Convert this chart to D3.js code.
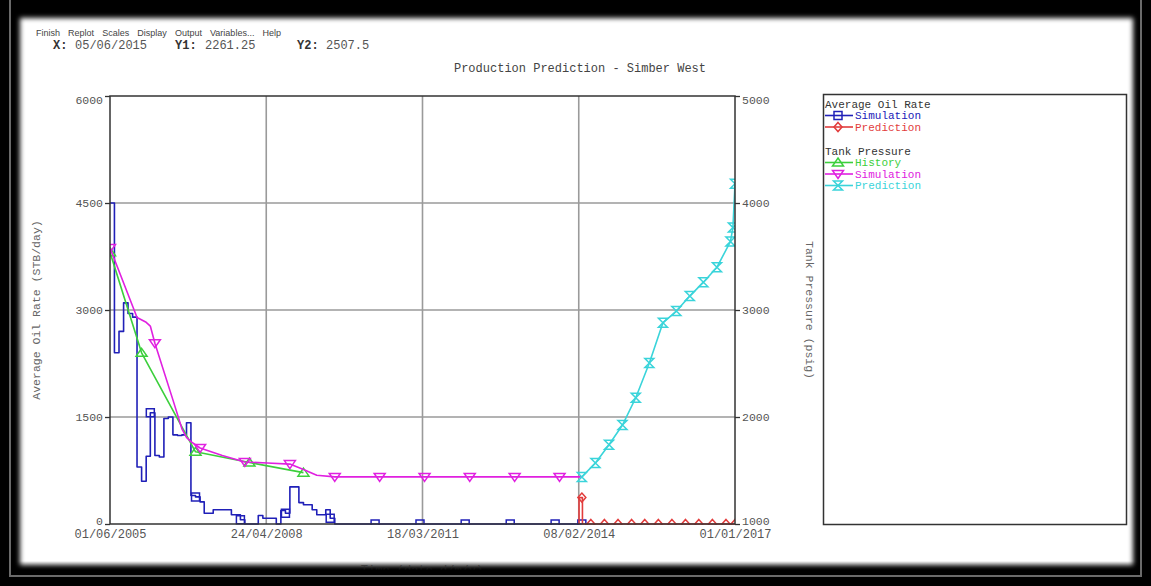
<!DOCTYPE html>
<html>
<head>
<meta charset="utf-8">
<script src="https://cdn.jsdelivr.net/npm/d3@7"></script>
<style>
  html, body { margin: 0; padding: 0; background: #000; }
  svg { display: block; }
</style>
</head>
<body>
<svg id="chart" width="1151" height="586"></svg>
<script>
// ---------- data ----------
const menuItems = ["Finish", "Replot", "Scales", "Display", "Output", "Variables...", "Help"];
const cursorLabels = ["X:", "Y1:", "Y2:"];
const cursorValues = ["05/06/2015", "2261.25", "2507.5"];
const chartTitle = "Production Prediction - Simber West";

const xTickLabels = ["01/06/2005", "24/04/2008", "18/03/2011", "08/02/2014", "01/01/2017"];
const rateTicks = [0, 1500, 3000, 4500, 6000];
const pressureTicks = [1000, 2000, 3000, 4000, 5000];

// Average oil rate, simulation: monthly values from June 2005 (STB/day)
const oilSimStart = "01/06/2005";
const oilSimRate = [
  4500, 2400, 2700, 3100, 2950, 2900, 800, 600, 950, 1560,
  960, 940, 1480, 1500, 1250, 1240, 1250, 1420, 400, 380,
  310, 150, 150, 200, 200, 200, 200, 130, 130, 60,
  0, 0, 0, 120, 80, 80, 80, 0, 190, 150,
  520, 520, 300, 270, 270, 200, 130, 130, 200, 80,
  0, 0, 0, 0, 0, 0, 0, 0, 0, 0,
  0, 0, 0, 0, 0, 0, 0, 0, 0, 0,
  0, 0, 0, 0, 0, 0, 0, 0, 0, 0,
  0, 0, 0, 0, 0, 0, 0, 0, 0, 0,
  0, 0, 0, 0, 0, 0, 0, 0, 0, 0,
  0, 0, 0, 0, 0, 0
];

// Average oil rate, prediction (STB/day)
const oilPredDates = ["09/02/2014", "10/02/2014", "01/03/2014", "05/03/2014", "01/05/2014", "01/08/2014",
  "01/11/2014", "01/02/2015", "01/05/2015", "01/08/2015", "01/11/2015", "01/02/2016",
  "01/05/2016", "01/08/2016", "01/11/2016", "01/01/2017"];
const oilPredRate = [0, 370, 370, 0, 0, 0, 0, 0, 0, 0, 0, 0, 0, 0, 0, 0];
const oilPredMarked = [false, false, true, false, true, true, true, true, true, true, true, true, true, true, true, true];

// Tank pressure, history (psig)
const presHistDates = ["01/06/2005", "01/01/2006", "01/01/2007", "01/01/2008", "01/01/2009"];
const presHist = [3540, 2600, 1675, 1575, 1480];

// Tank pressure, simulation (psig)
const presSimDates = ["01/06/2005", "01/12/2005", "01/02/2006", "01/03/2006", "01/04/2006", "01/08/2006",
  "01/10/2006", "01/11/2006", "01/12/2006", "01/02/2007", "01/07/2007", "01/12/2007",
  "01/05/2008", "01/10/2008", "01/01/2009", "01/04/2009", "01/08/2009", "01/06/2010",
  "01/04/2011", "01/02/2012", "01/12/2012", "01/10/2013", "01/03/2014"];
const presSim = [3580, 2930, 2885, 2850, 2690, 2160, 1890, 1810, 1770, 1710, 1640, 1580,
  1570, 1560, 1510, 1455, 1440, 1440, 1440, 1440, 1440, 1440, 1440];
const presSimMarked = [true, false, false, false, true, false, false, false, false, true, false, true,
  false, true, false, false, true, true, true, true, true, true, false];

// Tank pressure, prediction (psig)
const presPredDates = ["01/03/2014", "01/06/2014", "01/09/2014", "01/12/2014", "01/03/2015", "01/06/2015",
  "01/09/2015", "01/12/2015", "01/03/2016", "01/06/2016", "01/09/2016", "01/12/2016",
  "18/12/2016", "01/01/2017"];
const presPred = [1440, 1570, 1740, 1925, 2180, 2505, 2880, 2990, 3130, 3260, 3400, 3640, 3770, 4180];

// ---------- setup ----------
const parse = d3.timeParse("%d/%m/%Y");
const svg = d3.select("#chart");
const W = 1151, H = 586;
const plot = { left: 110, right: 735, top: 96, bottom: 524 };
const mono = "'Liberation Mono', 'DejaVu Sans Mono', monospace";

const col = {
  blue: "#2020b8",
  red: "#e23c3c",
  green: "#3ccf3c",
  magenta: "#e020e0",
  cyan: "#3ad4da",
  grid: "#9a9a9a",
  frame: "#333"
};

const xTicks = xTickLabels.map(parse);
const x = d3.scaleTime().domain([xTicks[0], xTicks[xTicks.length - 1]]).range([plot.left, plot.right]);
const yL = d3.scaleLinear().domain([0, 6000]).range([plot.bottom, plot.top]);
const yR = d3.scaleLinear().domain([1000, 5000]).range([plot.bottom, plot.top]);

const defs = svg.append("defs");
defs.append("filter").attr("id", "soft").attr("x", "-5%").attr("y", "-5%").attr("width", "110%").attr("height", "110%")
  .append("feGaussianBlur").attr("stdDeviation", 2.6);
defs.append("clipPath").attr("id", "plotClip")
  .append("rect").attr("x", plot.left).attr("y", plot.top)
  .attr("width", plot.right - plot.left).attr("height", plot.bottom - plot.top + 1);
const fade = defs.append("linearGradient").attr("id", "bottomFade").attr("x1", 0).attr("x2", 0).attr("y1", 0).attr("y2", 1);
fade.append("stop").attr("offset", "0%").attr("stop-color", "#000").attr("stop-opacity", 0);
fade.append("stop").attr("offset", "38%").attr("stop-color", "#000").attr("stop-opacity", 1);
fade.append("stop").attr("offset", "100%").attr("stop-color", "#000").attr("stop-opacity", 1);

// window background and white client area with soft edges
svg.append("rect").attr("width", W).attr("height", H).attr("fill", "#000");
svg.append("rect").attr("x", 20).attr("y", 18).attr("width", 1113).attr("height", 549)
  .attr("fill", "#fff").attr("filter", "url(#soft)");

// ---------- header ----------
// menu bar: items spread evenly between x=36 and x=281
const menuG = svg.append("g");
const menuTexts = menuItems.map(m => menuG.append("text").attr("y", 36)
  .attr("font-family", "'Liberation Sans', Arial, sans-serif").attr("font-size", 9)
  .attr("fill", "#444").text(m));
const widths = menuTexts.map(t => t.node().getComputedTextLength());
const gap = (281 - 36 - d3.sum(widths)) / (menuItems.length - 1);
let mx = 36;
menuTexts.forEach((t, i) => { t.attr("x", mx); mx += widths[i] + gap; });

const cursorX = [53, 175, 297];
const valueX = [75, 205, 326];
cursorLabels.forEach((lab, i) => {
  svg.append("text").attr("x", cursorX[i]).attr("y", 49)
    .attr("font-family", mono).attr("font-size", 12).attr("font-weight", "bold").attr("fill", "#333").text(lab);
  svg.append("text").attr("x", valueX[i]).attr("y", 49)
    .attr("font-family", mono).attr("font-size", 12).attr("fill", "#555").text(cursorValues[i]);
});

svg.append("text").attr("x", 580).attr("y", 72).attr("text-anchor", "middle")
  .attr("font-family", mono).attr("font-size", 12).attr("fill", "#444").text(chartTitle);

// ---------- grid ----------
const grid = svg.append("g").attr("stroke", col.grid).attr("stroke-width", 1.6);
xTicks.slice(1, -1).forEach(d => {
  grid.append("line").attr("x1", x(d)).attr("x2", x(d)).attr("y1", plot.top).attr("y2", plot.bottom);
});
rateTicks.slice(1, -1).forEach(v => {
  grid.append("line").attr("x1", plot.left).attr("x2", plot.right).attr("y1", yL(v)).attr("y2", yL(v));
});

// ---------- axes ----------
function styleAxis(g) {
  g.select(".domain").remove();
  g.selectAll(".tick line").attr("stroke", col.frame).attr("stroke-width", 1.3);
  g.selectAll(".tick text").attr("font-family", mono).attr("font-size", 11.5).attr("fill", "#555");
}
const axL = svg.append("g").attr("transform", `translate(${plot.left},0)`)
  .call(d3.axisLeft(yL).tickValues(rateTicks).tickFormat(d3.format("d")).tickSize(5).tickPadding(2));
styleAxis(axL);
const axR = svg.append("g").attr("transform", `translate(${plot.right},0)`)
  .call(d3.axisRight(yR).tickValues(pressureTicks).tickFormat(d3.format("d")).tickSize(5).tickPadding(2));
styleAxis(axR);
// keep the end labels inside the plot height
[axL, axR].forEach(g => {
  const t = g.selectAll(".tick text");
  t.filter((d, i) => i === 0).attr("dy", "0.0em");
  t.filter((d, i, n) => i === n.length - 1).attr("dy", "0.65em");
});
const axB = svg.append("g").attr("transform", `translate(0,${plot.bottom})`)
  .call(d3.axisBottom(x).tickValues(xTicks).tickFormat(d3.timeFormat("%d/%m/%Y")).tickSize(0).tickPadding(5));
styleAxis(axB);
axB.selectAll(".tick text").attr("font-size", 12);

svg.append("text").attr("transform", "translate(40,310) rotate(-90)").attr("text-anchor", "middle")
  .attr("font-family", mono).attr("font-size", 11.5).attr("fill", "#666").text("Average Oil Rate (STB/day)");
svg.append("text").attr("transform", "translate(806,310) rotate(90)").attr("text-anchor", "middle")
  .attr("font-family", mono).attr("font-size", 11.5).attr("fill", "#666").text("Tank Pressure (psig)");
svg.append("text").attr("x", 422).attr("y", 574).attr("text-anchor", "middle")
  .attr("font-family", mono).attr("font-size", 12).attr("fill", "#777").text("Time (date d/m/y)");

// ---------- markers ----------
function markerPath(kind, r) {
  switch (kind) {
    case "square": return `M${-r},${-r}H${r}V${r}H${-r}Z`;
    case "diamond": return `M0,${-r - 0.5}L${r},0L0,${r + 0.5}L${-r},0Z`;
    case "up": return `M0,${-r}L${r + 1},${r - 1}H${-r - 1}Z`;
    case "down": return `M0,${r}L${r + 1},${-r + 1}H${-r - 1}Z`;
    case "hourglass": return `M${-r},${-r}H${r}L${-r},${r}H${r}Z`;
  }
}

// ---------- series ----------
const series = svg.append("g").attr("clip-path", "url(#plotClip)");

function drawSeries(points, yScale, color, kind, r, curve) {
  const line = d3.line().x(d => x(d.date)).y(d => yScale(d.value)).curve(curve || d3.curveLinear);
  series.append("path").datum(points).attr("d", line)
    .attr("fill", "none").attr("stroke", color).attr("stroke-width", 1.6).attr("stroke-linejoin", "round");
  series.append("g").selectAll("path").data(points.filter(d => d.marked)).join("path")
    .attr("transform", d => `translate(${x(d.date)},${yScale(d.value)})`)
    .attr("d", markerPath(kind, r))
    .attr("fill", "none").attr("stroke", color).attr("stroke-width", 1.5);
}

const simStart = parse(oilSimStart);
const oilSimPts = oilSimRate.map((v, i) => ({
  date: d3.timeMonth.offset(simStart, i),
  value: v,
  marked: i % 10 === 9 || i === oilSimRate.length - 1
}));
drawSeries(oilSimPts, yL, col.blue, "square", 4, d3.curveStepAfter);

const oilPredPts = oilPredDates.map((d, i) => ({ date: parse(d), value: oilPredRate[i], marked: oilPredMarked[i] }));
drawSeries(oilPredPts, yL, col.red, "diamond", 4, d3.curveStepAfter);

const histPts = presHistDates.map((d, i) => ({ date: parse(d), value: presHist[i], marked: true }));
drawSeries(histPts, yR, col.green, "up", 4.5);

const simPts = presSimDates.map((d, i) => ({ date: parse(d), value: presSim[i], marked: presSimMarked[i] }));
drawSeries(simPts, yR, col.magenta, "down", 4.5);

const predPts = presPredDates.map((d, i) => ({ date: parse(d), value: presPred[i], marked: true }));
drawSeries(predPts, yR, col.cyan, "hourglass", 4.5);

// plot frame
svg.append("rect").attr("x", plot.left).attr("y", plot.top)
  .attr("width", plot.right - plot.left).attr("height", plot.bottom - plot.top)
  .attr("fill", "none").attr("stroke", col.frame).attr("stroke-width", 1.5);

// ---------- legend ----------
const lg = svg.append("g");
lg.append("rect").attr("x", 823.5).attr("y", 94.5).attr("width", 303).attr("height", 430)
  .attr("fill", "#fff").attr("stroke", col.frame).attr("stroke-width", 1.5);
const legendRows = [
  { y: 104, text: "Average Oil Rate", color: "#333" },
  { y: 115.5, text: "Simulation", color: col.blue, kind: "square", r: 4 },
  { y: 127, text: "Prediction", color: col.red, kind: "diamond", r: 4 },
  { y: 151, text: "Tank Pressure", color: "#333" },
  { y: 162.5, text: "History", color: col.green, kind: "up", r: 4.5 },
  { y: 174, text: "Simulation", color: col.magenta, kind: "down", r: 4.5 },
  { y: 185.5, text: "Prediction", color: col.cyan, kind: "hourglass", r: 4.5 }
];
legendRows.forEach(row => {
  if (row.kind) {
    lg.append("line").attr("x1", 825).attr("x2", 853).attr("y1", row.y).attr("y2", row.y)
      .attr("stroke", row.color).attr("stroke-width", 1.6);
    lg.append("path").attr("transform", `translate(838,${row.y})`).attr("d", markerPath(row.kind, row.r))
      .attr("fill", "none").attr("stroke", row.color).attr("stroke-width", 1.5);
  }
  lg.append("text").attr("x", row.kind ? 855 : 825).attr("y", row.y).attr("dy", "0.33em")
    .attr("font-family", mono).attr("font-size", 11).attr("fill", row.color).text(row.text);
});

// ---------- window edge ----------
svg.append("rect").attr("x", 0).attr("y", 561).attr("width", W).attr("height", H - 561).attr("fill", "url(#bottomFade)");
svg.append("rect").attr("x", 10).attr("y", -10).attr("width", 1131).attr("height", 586)
  .attr("fill", "none").attr("stroke", "#6a6a6a").attr("stroke-width", 2);
</script>
</body>
</html>
